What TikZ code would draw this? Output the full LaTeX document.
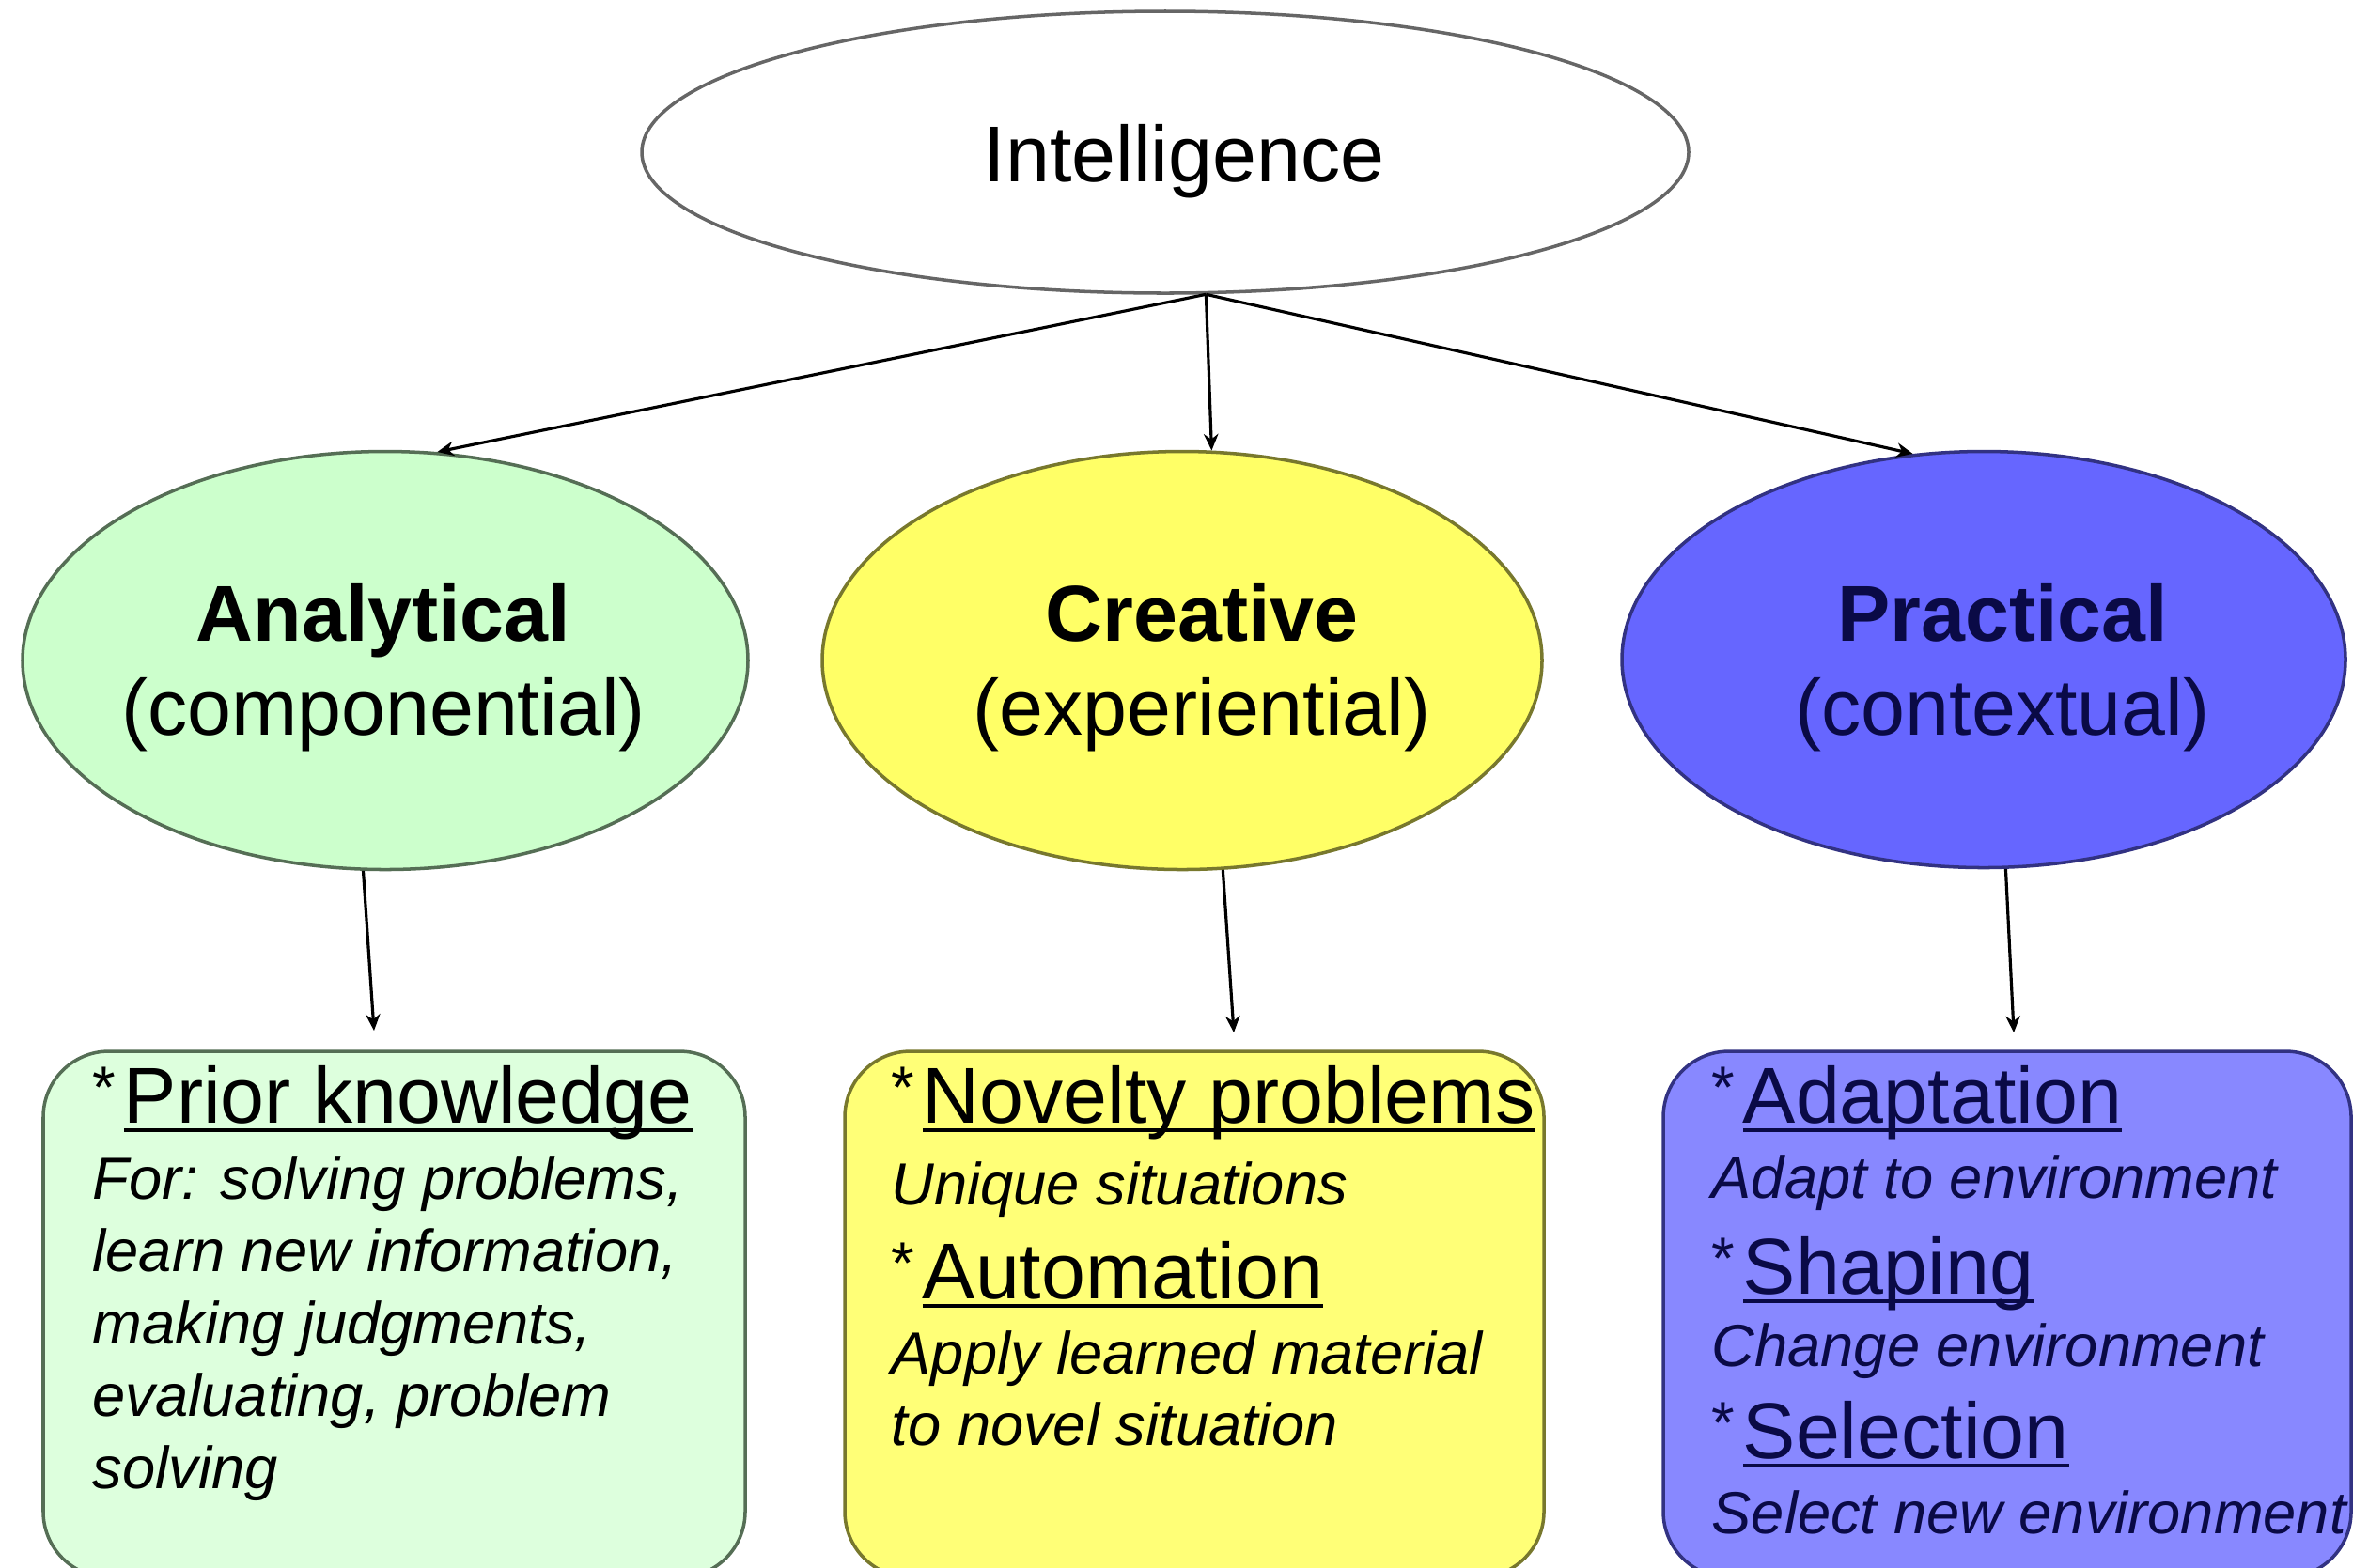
\documentclass[tikz,border=0pt]{standalone}
\usepackage{fontspec}
\setmainfont{Liberation Sans}
\usetikzlibrary{positioning, shapes.geometric, arrows.meta}

\definecolor{anafill}{RGB}{204,255,204}
\definecolor{anabox}{RGB}{221,255,221}
\definecolor{anadraw}{RGB}{85,110,85}
\definecolor{crefill}{RGB}{255,255,102}
\definecolor{crebox}{RGB}{255,255,119}
\definecolor{credraw}{RGB}{120,120,45}
\definecolor{prafill}{RGB}{102,102,255}
\definecolor{prabox}{RGB}{136,136,255}
\definecolor{pradraw}{RGB}{50,50,130}
\definecolor{pratext}{RGB}{10,10,70}

% underlined heading word, with a small star in front
\newsavebox{\ulsave}
\newcommand{\ulword}[1]{\sbox{\ulsave}{#1}\rlap{\rule[-2.7pt]{\wd\ulsave}{1.1pt}}\usebox{\ulsave}}
\newcommand{\smallstar}{\raisebox{4.5pt}{\fontsize{18}{20}\selectfont *}\kern2.4pt}

\begin{document}
\begin{tikzpicture}[
    oval/.style={ellipse, draw, line width=1pt, inner sep=0pt},
    card/.style={rectangle, rounded corners=0.7cm, draw, line width=1pt, inner sep=0pt},
    ovaltitle/.style={anchor=base, inner sep=0pt, font=\fontsize{24}{28}\selectfont\bfseries},
    ovalsub/.style={anchor=base, inner sep=0pt, font=\fontsize{24}{28}\selectfont},
    head/.style={anchor=base west, inner sep=0pt, font=\fontsize{24}{28}\selectfont},
    note/.style={anchor=base west, inner sep=0pt, font=\fontsize{18}{22}\selectfont\itshape},
    link/.style={-{Stealth[length=5pt,width=4.4pt]}, line width=0.9pt}
]
\useasboundingbox (0,0) rectangle (25.04,-16.68);

% Top node
\node[oval, draw=black!60, minimum width=11.14cm, minimum height=3.0cm] (intel) at (12.40,-1.62) {};
\node[ovalsub] (intelT) at (12.60,-1.93) {Intelligence};

% Three kinds
\node[oval, draw=anadraw, fill=anafill, minimum width=7.72cm, minimum height=4.45cm] (ana) at (4.10,-7.03) {};
\node[oval, draw=credraw, fill=crefill, minimum width=7.66cm, minimum height=4.45cm] (cre) at (12.58,-7.03) {};
\node[oval, draw=pradraw, fill=prafill, minimum width=7.70cm, minimum height=4.43cm] (pra) at (21.11,-7.02) {};

\node[ovaltitle] (anaT) at (4.08,-6.82) {Analytical};
\node[ovalsub] (anaS) at (4.08,-7.82) {(componential)};
\node[ovaltitle] (creT) at (12.79,-6.82) {Creative};
\node[ovalsub] (creS) at (12.79,-7.82) {(experiential)};
\node[ovaltitle, text=pratext] (praT) at (21.31,-6.82) {Practical};
\node[ovalsub, text=pratext] (praS) at (21.31,-7.82) {(contextual)};

% Boxes
\node[card, draw=anadraw, fill=anabox, minimum width=7.47cm, minimum height=5.6cm] (anaBox) at (4.195,-13.99) {};
\node[card, draw=credraw, fill=crebox, minimum width=7.44cm, minimum height=5.6cm] (creBox) at (12.71,-13.99) {};
\node[card, draw=pradraw, fill=prabox, minimum width=7.32cm, minimum height=5.6cm] (praBox) at (21.36,-13.99) {};

% Analytical box text
\node[head] (pk) at (0.98,-11.95) {\smallstar\ulword{Prior knowledge}};
\node[note] (pk1) at (0.98,-12.76) {For: solving problems,};
\node[note] (pk2) at (0.98,-13.53) {learn new information,};
\node[note] (pk3) at (0.98,-14.30) {making judgments,};
\node[note] (pk4) at (0.98,-15.07) {evaluating, problem};
\node[note] (pk5) at (0.98,-15.84) {solving};

% Creative box text
\node[head] (np) at (9.48,-11.95) {\smallstar\ulword{Novelty problems}};
\node[note] (np1) at (9.48,-12.82) {Unique situations};
\node[head] (au) at (9.48,-13.82) {\smallstar\ulword{Automation}};
\node[note] (au1) at (9.48,-14.62) {Apply learned material};
\node[note] (au2) at (9.48,-15.38) {to novel situation};

% Practical box text
\node[head, text=pratext] (ad) at (18.21,-11.95) {\smallstar\ulword{Adaptation}};
\node[note, text=pratext] (ad1) at (18.21,-12.75) {Adapt to environment};
\node[head, text=pratext] (sh) at (18.21,-13.77) {\smallstar\ulword{Shaping}};
\node[note, text=pratext] (sh1) at (18.21,-14.54) {Change environment};
\node[head, text=pratext] (se) at (18.21,-15.52) {\smallstar\ulword{Selection}};
\node[note, text=pratext] (se1) at (18.21,-16.32) {Select new environment};

% Arrow ends above the boxes
\coordinate (anaIn) at (3.98,-10.97);
\coordinate (creIn) at (13.13,-10.99);
\coordinate (praIn) at (21.43,-10.99);

% Connections
\draw[link] (intel.-74) -- (ana.76);
\draw[link] (intel.-74) -- (cre.82);
\draw[link] (intel.-74) -- (pra.109);

\draw[link] (ana.-96) -- (anaIn);
\draw[link] (cre.-79) -- (creIn);
\draw[link] (pra.-84) -- (praIn);

\end{tikzpicture}
\end{document}
